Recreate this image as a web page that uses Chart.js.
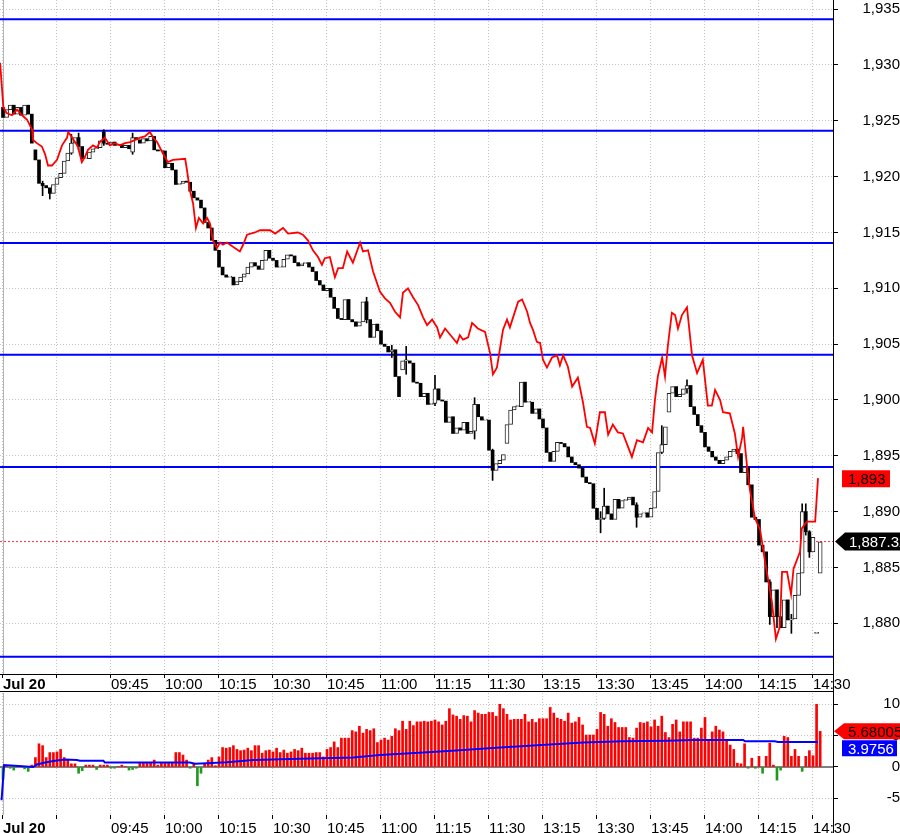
<!DOCTYPE html>
<html>
<head>
<meta charset="utf-8">
<script src="https://cdn.jsdelivr.net/npm/chart.js@4.4.0/dist/chart.umd.min.js"></script>
<style>
  html, body { margin: 0; padding: 0; background: #fff; }
  #wrap { width: 900px; height: 833px; overflow: hidden; }
  canvas { display: block; }
</style>
</head>
<body>
<div id="wrap">
  <canvas id="price" width="900" height="693"></canvas>
  <canvas id="osc" width="900" height="140"></canvas>
</div>
<script>
// x positions are minute bars since 09:15 (lunch break removed)
const tickIdx = [0, 15, 30, 45, 60, 75, 90, 105, 120, 135, 150, 165, 180, 195, 210, 225];
const tickLabels = ['Jul 20', '', '09:45', '10:00', '10:15', '10:30', '10:45', '11:00', '11:15', '11:30', '13:15', '13:30', '13:45', '14:00', '14:15', '14:30'];

const priceTicks = [1880, 1885, 1890, 1895, 1900, 1905, 1910, 1915, 1920, 1925, 1930, 1935];
const oscTicks = [-5, 0, 5, 10];

// candle closes, one per minute
const closes = [
  1925.3, 1926.0, 1926.4, 1925.6, 1926.2, 1925.5, 1926.4, 1925.6, 1923.0, 1921.5,
  1919.4, 1919.2, 1919.0, 1918.5, 1919.3, 1919.9, 1920.3, 1921.4, 1922.1, 1923.0,
  1923.5, 1922.7, 1921.6, 1921.6, 1922.2, 1922.5, 1922.6, 1923.2, 1923.0, 1922.9,
  1923.1, 1922.8, 1922.9, 1922.6, 1922.8, 1922.5, 1923.5, 1923.3, 1923.0, 1923.4,
  1923.2, 1923.6, 1922.4, 1922.3, 1922.3, 1920.8, 1921.2, 1920.6, 1919.3, 1919.4,
  1919.6, 1919.5, 1918.7, 1918.1, 1917.9, 1917.2, 1915.9, 1915.4, 1914.3, 1913.4,
  1911.9, 1911.2, 1911.0, 1911.0, 1910.3, 1910.6, 1911.0, 1911.3, 1911.9, 1912.3,
  1912.0, 1911.7, 1912.5, 1913.4, 1912.7, 1912.5, 1911.9, 1911.9, 1912.6, 1913.0,
  1912.9, 1912.3, 1912.0, 1912.2, 1912.3, 1911.9, 1911.5, 1910.7, 1910.3, 1909.8,
  1910.0, 1909.2, 1908.2, 1907.3, 1907.2, 1909.0, 1907.2, 1907.0, 1906.6, 1907.0,
  1908.8, 1907.2, 1905.6, 1906.8, 1906.2, 1905.0, 1904.8, 1904.3, 1904.5, 1902.1,
  1900.3, 1903.5, 1903.5, 1903.3, 1901.6, 1901.5, 1900.3, 1900.6, 1899.6, 1899.7,
  1901.0, 1900.0, 1899.9, 1898.0, 1898.5, 1897.0, 1897.5, 1897.3, 1898.0, 1897.0,
  1897.2, 1899.6, 1898.5, 1898.2, 1898.2, 1895.5, 1893.7, 1894.3, 1894.6, 1895.1,
  1897.8, 1899.1, 1899.4, 1899.4, 1901.6, 1899.8, 1899.8, 1898.8, 1899.2, 1898.3,
  1897.5, 1895.3, 1894.5, 1895.4, 1896.2, 1896.1, 1895.8, 1894.9, 1894.4, 1894.2,
  1893.9, 1893.1, 1892.6, 1892.5, 1890.3, 1889.3, 1889.4, 1890.5, 1889.8, 1889.3,
  1891.1, 1890.3, 1891.0, 1891.1, 1891.3, 1890.6, 1889.5, 1889.8, 1889.9, 1889.5,
  1890.3, 1891.8, 1895.3, 1896.0, 1897.6, 1900.6, 1901.2, 1900.3, 1900.5, 1901.0,
  1901.3, 1899.4, 1898.7, 1897.7, 1897.1, 1895.8, 1895.4, 1894.9, 1894.6, 1894.3,
  1894.6, 1894.9, 1895.4, 1895.6, 1895.2, 1893.5, 1894.0, 1892.4, 1889.5, 1889.3,
  1887.0, 1886.4, 1883.7, 1880.6, 1883.0, 1880.6, 1879.6, 1882.1, 1880.3, 1880.4,
  1882.5, 1884.5, 1890.0, 1888.2, 1886.4, 1887.7, 1879.1, 1887.3
];
// bars whose open is not the previous close: [index, open]
const openGaps = [[0, 1926.2], [9, 1922.4], [28, 1924.0], [36, 1922.2], [111, 1902.7], [140, 1896.1], [185, 1898.9], [226, 1879.1], [227, 1884.5]];
// visible wicks: [index, low, high]
const wicks = [
  [11, 1918.3, 1919.6], [13, 1918.0, 1918.8], [19, 1922.0, 1923.8], [21, 1922.4, 1923.9], [28, 1922.8, 1924.2],
  [36, 1922.0, 1923.9], [101, 1906.9, 1909.2], [108, 1903.8, 1904.9], [112, 1902.3, 1904.8], [120, 1899.5, 1902.2],
  [131, 1896.5, 1900.2], [136, 1892.8, 1895.6], [166, 1888.1, 1890.0], [167, 1889.3, 1892.1], [176, 1888.6, 1890.8],
  [183, 1895.2, 1897.7], [190, 1900.6, 1901.8], [213, 1879.9, 1883.9], [215, 1879.6, 1881.0], [219, 1879.1, 1880.8],
  [222, 1884.6, 1890.7], [223, 1887.9, 1890.7], [224, 1885.9, 1888.3]
];

// red comparison line: [minute index, price]
const redLine = [
  [-0.8, 1930.2], [0.1, 1926.2], [1.0, 1925.7], [2.5, 1925.5], [3.9, 1926.0], [5.3, 1925.5], [6.7, 1925.1], [8.1, 1924.2],
  [8.3, 1923.3], [9.4, 1923.0], [10.8, 1922.7], [11.7, 1922.0], [12.5, 1921.0], [13.6, 1921.0], [15.0, 1921.5], [16.4, 1922.8],
  [17.8, 1923.5], [18.1, 1924.0], [19.2, 1923.5], [20.0, 1923.1], [20.8, 1922.7], [21.9, 1921.3], [22.8, 1921.8], [23.6, 1922.4],
  [25.0, 1922.8], [26.1, 1922.6], [26.9, 1923.1], [28.3, 1923.5], [29.7, 1922.8], [31.1, 1923.0], [32.5, 1922.8], [33.9, 1923.0],
  [35.3, 1923.1], [36.7, 1923.3], [38.1, 1923.5], [39.4, 1923.6], [40.8, 1924.0], [41.7, 1923.5], [42.8, 1923.1], [43.6, 1922.6],
  [44.4, 1922.1], [45.8, 1921.3], [47.2, 1921.5], [50.6, 1921.6], [51.1, 1920.6], [51.9, 1918.8], [52.8, 1917.6], [53.6, 1915.4],
  [54.4, 1916.3], [55.6, 1915.8], [56.7, 1916.3], [57.5, 1915.8], [58.3, 1914.3], [59.4, 1913.6], [60.3, 1914.1], [61.1, 1913.9],
  [62.2, 1914.1], [63.1, 1913.9], [64.4, 1913.6], [65.8, 1913.3], [66.7, 1913.9], [67.8, 1914.8], [70.0, 1915.0], [71.4, 1915.2],
  [74.2, 1915.2], [75.6, 1914.9], [76.9, 1915.2], [77.8, 1915.4], [79.2, 1914.9], [81.9, 1915.0], [83.3, 1914.8], [84.7, 1914.3],
  [86.1, 1913.4], [87.5, 1912.8], [88.6, 1912.1], [89.4, 1912.7], [90.8, 1912.8], [92.2, 1911.0], [93.1, 1911.8], [94.4, 1911.8],
  [95.6, 1913.3], [97.2, 1912.3], [99.2, 1914.1], [100.0, 1913.3], [101.4, 1913.4], [102.8, 1911.5], [104.7, 1909.7], [106.1, 1909.1],
  [107.5, 1908.7], [108.9, 1907.9], [110.3, 1907.4], [111.1, 1909.6], [112.5, 1910.0], [113.9, 1909.2], [115.3, 1908.5], [116.7, 1907.4],
  [117.8, 1906.7], [119.2, 1907.2], [120.6, 1906.5], [121.4, 1905.6], [122.8, 1906.4], [126.1, 1905.1], [126.9, 1905.8], [127.8, 1905.4],
  [129.2, 1905.6], [130.3, 1906.9], [131.9, 1906.4], [133.9, 1906.1], [135.3, 1904.2], [136.1, 1902.3], [137.2, 1902.9], [138.1, 1904.7],
  [138.9, 1906.3], [140.0, 1907.2], [140.8, 1906.5], [143.1, 1908.8], [144.2, 1909.0], [145.6, 1907.9], [146.4, 1906.9], [147.2, 1906.3],
  [148.3, 1905.2], [149.2, 1905.1], [150.0, 1903.6], [151.1, 1902.9], [152.5, 1903.8], [153.9, 1904.0], [154.7, 1903.1], [155.6, 1904.0],
  [156.9, 1903.0], [158.1, 1901.2], [159.7, 1902.0], [161.1, 1899.8], [162.2, 1897.6], [163.1, 1897.5], [164.4, 1896.1], [165.8, 1898.9],
  [167.2, 1898.9], [168.1, 1896.9], [169.4, 1897.8], [170.8, 1897.1], [172.2, 1897.0], [174.7, 1894.9], [176.1, 1896.4], [177.8, 1896.2],
  [179.2, 1897.5], [180.3, 1897.1], [181.1, 1900.0], [181.9, 1902.1], [183.1, 1903.8], [183.9, 1902.1], [184.7, 1904.9], [185.8, 1907.8],
  [186.7, 1907.6], [187.5, 1906.4], [188.6, 1907.6], [190.0, 1908.3], [191.4, 1904.0], [192.8, 1902.4], [194.4, 1903.6], [195.8, 1899.5],
  [196.9, 1899.5], [197.8, 1900.9], [199.2, 1900.0], [200.0, 1898.9], [201.9, 1898.8], [203.3, 1897.0], [204.2, 1894.9], [205.3, 1896.6],
  [205.6, 1897.6], [206.7, 1894.0], [207.5, 1891.9], [208.9, 1889.4], [210.3, 1888.4], [211.7, 1885.5], [213.6, 1881.9], [214.7, 1878.6],
  [215.8, 1879.7], [216.4, 1884.6], [217.8, 1884.6], [218.9, 1882.6], [219.6, 1884.9], [221.4, 1886.4], [221.9, 1888.5], [223.3, 1889.1],
  [225.6, 1889.1], [226.4, 1893.0]
];

const levels = [1934.1, 1924.1, 1914.05, 1904.05, 1894.0, 1877.0];
const lastPrice = 1887.32;
const redLast = 1893;

// lower panel histogram, one per minute
const hist = [
  -2.0, 0.2, -0.2, -0.5, 0.2, 0.2, -0.3, -0.7, 0.3, 1.5,
  3.7, 3.4, 1.5, 2.3, 2.3, 2.4, 2.8, 1.5, 1.1, 0.5,
  0.5, -1.0, -0.6, 0.3, 0.3, 0.3, -0.4, 0.3, 0.3, 0.3,
  -0.2, -0.2, 0.1, 0.3, 0.1, -0.5, -0.4, -0.2, 0.6, 0.6,
  0.6, 0.6, 1.1, 0.3, 0.6, 0.6, 0.6, 0.6, 2.3, 2.3,
  1.9, 1.1, -0.2, 0.5, -3.0, -1.0, 0.5, 1.1, 1.5, 0.2,
  1.6, 3.1, 3.0, 3.1, 3.4, 2.8, 2.6, 2.7, 3.0, 2.6,
  3.4, 3.4, 2.2, 2.6, 2.7, 2.4, 3.0, 2.3, 2.7, 2.2,
  2.4, 2.8, 2.6, 3.0, 2.2, 2.2, 2.2, 2.3, 2.3, 1.6,
  2.8, 3.1, 4.0, 3.1, 4.6, 4.6, 4.6, 5.8, 5.6, 6.5,
  5.4, 6.0, 5.8, 6.1, 3.9, 4.3, 4.6, 4.3, 4.9, 6.1,
  5.8, 7.3, 6.0, 7.3, 6.6, 7.2, 7.2, 7.3, 7.2, 7.3,
  7.5, 7.2, 6.7, 7.3, 9.3, 8.3, 8.1, 7.6, 8.2, 8.1,
  7.2, 9.0, 8.6, 8.4, 8.4, 8.7, 8.7, 8.1, 10.0, 9.3,
  8.4, 7.5, 7.6, 7.6, 7.6, 8.4, 7.2, 7.6, 7.1, 7.7,
  7.7, 7.7, 9.5, 8.6, 7.8, 7.6, 7.3, 8.6, 7.0, 7.2,
  7.9, 6.7, 5.1, 5.1, 5.1, 6.0, 8.7, 8.4, 6.5, 7.7,
  7.1, 6.3, 6.3, 6.3, 4.7, 4.6, 6.2, 7.1, 7.0, 7.2,
  6.4, 7.5, 6.5, 8.1, 5.5, 4.7, 6.8, 7.5, 5.6, 7.2,
  7.2, 7.2, 4.6, 4.6, 6.2, 7.9, 4.3, 5.6, 6.5, 5.9,
  5.6, 4.3, 3.5, 2.8, 0.6, 0.5, 3.7, -0.2, 1.4, -0.2,
  1.7, -1.0, 1.7, 3.8, 0.3, -2.1, -0.5, 4.9, 4.7, 1.7,
  2.8, 1.7, -0.7, 1.7, 2.6, 1.8, 10.0, 5.68
];
// blue average line: [minute index, value]
const avgLine = [
  [-0.4, -5.3], [0.3, 0.3], [8.4, 0.0], [9.4, 0.4], [11.7, 0.7], [14.4, 1.0], [17.2, 1.2], [20.5, 1.1],
  [21.4, 1.0], [27.9, 1.0], [28.3, 0.7], [51.9, 0.7], [53.3, 0.5], [56.6, 0.6], [62.2, 0.75], [69.5, 1.1],
  [82.5, 1.3], [97.3, 1.5], [104.7, 1.9], [116.8, 2.3], [123.7, 2.55], [138.1, 3.1], [151.9, 3.6], [161.2, 3.9],
  [172.3, 4.1], [184.4, 4.2], [191.7, 4.3], [205.6, 4.3], [206.1, 4.1], [214.4, 4.1], [215.3, 4.0], [226.4, 3.98]
];
const histLast = '5.68005';
const avgLast = '3.9756';

const X_MIN = -0.833, X_MAX = 230.56;
const FONT = '"Liberation Sans", Arial, sans-serif';
const GRID = '#c4c4c4';

const opens = closes.map((c, i) => {
  const g = openGaps.find(p => p[0] === i);
  return g ? g[1] : (i > 0 ? closes[i - 1] : c);
});
const upBars = [], downBars = [];
closes.forEach((c, i) => {
  const o = opens[i];
  (c >= o ? upBars : downBars).push({ x: i, y: [o, c] });
});

const xAxis = (height, padding, showBorder) => ({
  type: 'linear', min: X_MIN, max: X_MAX, offset: false,
  afterBuildTicks: s => { s.ticks = tickIdx.map(v => ({ value: v })); },
  afterFit: s => { s.height = height; s.paddingLeft = 0; s.paddingRight = 0; },
  grid: { color: GRID, tickColor: '#000', tickLength: 4, offset: false },
  border: { display: showBorder, color: '#000', dash: [1, 2] },
  ticks: {
    autoSkip: false, maxRotation: 0, minRotation: 0, align: 'start', padding: padding, color: '#000',
    font: c => ({ family: FONT, size: 15, weight: c.tick && c.tick.value === 0 ? 'bold' : 'normal' }),
    callback: (v, i) => tickLabels[i]
  }
});

const yAxis = (min, max, ticks, fmt) => ({
  position: 'right', min: min, max: max, beginAtZero: false,
  afterBuildTicks: s => { s.ticks = ticks.map(v => ({ value: v })); },
  afterFit: s => { s.width = 67; s.paddingTop = 0; s.paddingBottom = 0; },
  grid: { color: GRID, tickColor: '#000', tickLength: 5 },
  border: { display: true, color: '#000', dash: [1, 2] },
  ticks: { crossAlign: 'far', color: '#000', font: { family: FONT, size: 15 }, callback: fmt }
});

const flat = (y, color, width, dash, order) => ({
  type: 'line', data: [{ x: X_MIN, y: y }, { x: X_MAX, y: y }],
  borderColor: color, borderWidth: width, borderDash: dash, pointRadius: 0, order: order
});

const tag = (ctx, x, y, w, h, fill, textColor, text, arrow) => {
  ctx.save();
  ctx.fillStyle = fill;
  ctx.beginPath();
  if (arrow) {
    ctx.moveTo(x, y + h / 2);
    ctx.lineTo(x + 10, y);
    ctx.lineTo(x + w, y);
    ctx.lineTo(x + w, y + h);
    ctx.lineTo(x + 10, y + h);
  } else {
    ctx.rect(x, y, w, h);
  }
  ctx.closePath();
  ctx.fill();
  ctx.fillStyle = textColor;
  ctx.font = '15px ' + FONT;
  ctx.textBaseline = 'middle';
  ctx.textAlign = 'left';
  ctx.fillText(text, x + (arrow ? 14 : 6), y + h / 2 + 1);
  ctx.restore();
};

// first session gridline is drawn solid
const sessionLine = {
  id: 'sessionLine',
  beforeDatasetsDraw: (chart) => {
    const ctx = chart.ctx;
    const a = chart.chartArea;
    const x = Math.round(chart.scales.x.getPixelForValue(tickIdx[0]));
    ctx.save();
    ctx.fillStyle = '#b4b4b4';
    ctx.fillRect(x, a.top, 1, a.bottom - a.top);
    ctx.restore();
  }
};

const priceExtras = {
  id: 'priceExtras',
  afterDraw: (chart) => {
    const ctx = chart.ctx;
    const a = chart.chartArea;
    const y = chart.scales.y;
    ctx.save();
    ctx.fillStyle = '#000';
    ctx.fillRect(0, 691, a.right, 1);
    ctx.fillRect(a.right, a.bottom, 1, chart.height - a.bottom);
    ctx.restore();
    tag(ctx, 842, y.getPixelForValue(redLast) - 8, 48, 17, '#ff0000', '#000', redLast.toLocaleString('en-US'), false);
    tag(ctx, 835, y.getPixelForValue(lastPrice) - 9, 70, 18, '#000', '#fff', lastPrice.toLocaleString('en-US'), true);
  }
};

const oscExtras = {
  id: 'oscExtras',
  afterDraw: (chart) => {
    const ctx = chart.ctx;
    const a = chart.chartArea;
    const y = chart.scales.y;
    ctx.save();
    ctx.fillStyle = '#000';
    ctx.fillRect(a.right, a.bottom, 1, chart.height - a.bottom);
    ctx.restore();
    tag(ctx, 834, y.getPixelForValue(parseFloat(histLast)) - 8, 70, 16, '#ff0000', '#000', histLast, true);
    tag(ctx, 842, y.getPixelForValue(parseFloat(histLast)) + 9, 55, 16, '#0000ff', '#fff', avgLast, false);
  }
};

Chart.defaults.font.family = FONT;

new Chart(document.getElementById('price'), {
  type: 'bar',
  data: {
    datasets: [
      { type: 'line', data: redLine.map(p => ({ x: p[0], y: p[1] })), borderColor: '#ff0000', borderWidth: 1.8, pointRadius: 0, tension: 0, order: 0 },
      { type: 'bar', data: upBars, backgroundColor: '#fff', borderColor: '#222', borderWidth: 1, borderSkipped: false, barThickness: 4, minBarLength: 1, grouped: false, order: 1 },
      { type: 'bar', data: downBars, backgroundColor: '#000', borderWidth: 0, barThickness: 3, minBarLength: 1, grouped: false, order: 1 },
      { type: 'bar', data: wicks.map(w => ({ x: w[0], y: [w[1], w[2]] })), backgroundColor: '#000', borderWidth: 0, barThickness: 1, grouped: false, order: 2 },
      ...levels.map(v => flat(v, '#0000ff', 2, [], 3)),
      flat(lastPrice, '#ff3030', 1, [2, 2], 4)
    ]
  },
  options: {
    responsive: false, animation: false, events: [],
    layout: { padding: 0 },
    plugins: { legend: { display: false }, tooltip: { enabled: false } },
    scales: {
      x: xAxis(19, -2, true),
      y: yAxis(1875.46, 1935.82, priceTicks, v => v.toLocaleString('en-US'))
    }
  },
  plugins: [sessionLine, priceExtras]
});

new Chart(document.getElementById('osc'), {
  type: 'bar',
  data: {
    datasets: [
      { type: 'line', data: avgLine.map(p => ({ x: p[0], y: p[1] })), borderColor: '#0000ff', borderWidth: 2, pointRadius: 0, tension: 0, order: 0 },
      { type: 'bar', data: hist.map((v, i) => ({ x: i, y: v })), backgroundColor: c => (c.raw && c.raw.y < 0 ? '#1f9a1f' : '#ff0000'), borderWidth: 0, barThickness: 2, grouped: false, order: 1 },
      flat(0, '#808080', 2, [], 2)
    ]
  },
  options: {
    responsive: false, animation: false, events: [],
    layout: { padding: 0 },
    plugins: { legend: { display: false }, tooltip: { enabled: false } },
    scales: {
      x: xAxis(18, 1, false),
      y: yAxis(-7.66, 11.8, oscTicks, v => String(v))
    }
  },
  plugins: [sessionLine, oscExtras]
});
</script>
</body>
</html>
